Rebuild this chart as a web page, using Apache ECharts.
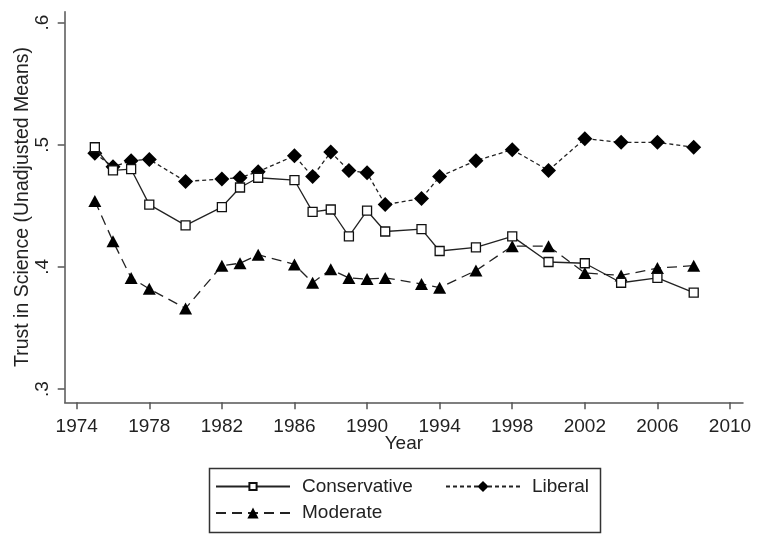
<!DOCTYPE html>
<html>
<head>
<meta charset="utf-8">
<script src="https://cdn.jsdelivr.net/npm/echarts@6/dist/echarts.min.js"></script>
<style>
  html, body { margin: 0; padding: 0; background: #fff; }
  #chart { width: 760px; height: 542px; }
</style>
</head>
<body>
<div id="chart"></div>
<script>
'use strict';

const years = [1975, 1976, 1977, 1978, 1980, 1982, 1983, 1984, 1986, 1987, 1988, 1989,
    1990, 1991, 1993, 1994, 1996, 1998, 2000, 2002, 2004, 2006, 2008];
const conservative = [0.498, 0.479, 0.480, 0.451, 0.434, 0.449, 0.465, 0.473, 0.471, 0.445, 0.447, 0.425,
    0.446, 0.429, 0.431, 0.413, 0.416, 0.425, 0.404, 0.403, 0.387, 0.391, 0.379];
const liberal = [0.493, 0.482, 0.487, 0.488, 0.470, 0.472, 0.473, 0.478, 0.491, 0.474, 0.494, 0.479,
    0.477, 0.451, 0.456, 0.474, 0.487, 0.496, 0.479, 0.505, 0.502, 0.502, 0.498];
const moderate = [0.454, 0.421, 0.391, 0.382, 0.366, 0.401, 0.403, 0.410, 0.402, 0.387, 0.398, 0.391,
    0.390, 0.391, 0.386, 0.383, 0.397, 0.417, 0.417, 0.395, 0.393, 0.399, 0.401];
const xTicks = [1974, 1978, 1982, 1986, 1990, 1994, 1998, 2002, 2006, 2010];
const yTicks = [0.3, 0.4, 0.5, 0.6];

const font = "'Liberation Sans', Arial, sans-serif";
const ink = '#222';
const axisColor = '#555';

function pairs(vals) {
    return years.map(function (y, i) { return [y, vals[i]]; });
}

function legendAt(name, left, top, iconHeight) {
    return {
        data: [name],
        left: left,
        top: top,
        padding: 0,
        itemWidth: 74,
        itemHeight: iconHeight,
        selectedMode: false,
        textStyle: { fontSize: 19, color: ink, fontFamily: font, padding: [0, 0, 0, 7] }
    };
}

const chartDom = document.getElementById('chart');
const myChart = echarts.init(chartDom);

const option = {
    animation: false,
    backgroundColor: '#fff',
    textStyle: { fontFamily: font, color: ink },
    grid: { left: 64.7, right: 17, top: 11.7, bottom: 139.7, containLabel: false },
    xAxis: {
        type: 'value',
        min: 1973.339,
        max: 2010.716,
        name: 'Year',
        nameLocation: 'middle',
        nameGap: 32,
        nameMoveOverlap: false,
        nameTextStyle: { fontSize: 19, color: ink, fontFamily: font },
        axisLine: { onZero: false, lineStyle: { color: axisColor, width: 1.5 } },
        axisTick: { show: true, length: 7, customValues: xTicks, lineStyle: { color: axisColor, width: 1.5 } },
        axisLabel: {
            customValues: xTicks,
            fontSize: 19,
            color: ink,
            margin: 15,
            fontFamily: font,
            formatter: function (v) { return String(v); }
        },
        splitLine: { show: false }
    },
    yAxis: {
        type: 'value',
        min: 0.2891,
        max: 0.609,
        name: 'Trust in Science (Unadjusted Means)',
        nameLocation: 'middle',
        nameGap: 32,
        nameMoveOverlap: false,
        nameTextStyle: { fontSize: 19.5, color: ink, fontFamily: font },
        axisLine: { show: true, onZero: false, lineStyle: { color: axisColor, width: 1.5 } },
        axisTick: { show: true, length: 7, customValues: yTicks, lineStyle: { color: axisColor, width: 1.5 } },
        axisLabel: {
            customValues: yTicks,
            rotate: 90,
            fontSize: 19,
            color: ink,
            margin: 12,
            fontFamily: font,
            formatter: function (v) { return String(v).replace(/^0/, ''); }
        },
        splitLine: { show: false }
    },
    legend: [
        legendAt('Conservative', 215, 477, 9),
        legendAt('Liberal', 445, 477, 14),
        legendAt('Moderate', 215, 503.5, 14)
    ],
    graphic: [
        {
            type: 'rect',
            left: 207,
            top: 466,
            shape: { width: 391, height: 64 },
            style: { fill: 'none', stroke: '#333', lineWidth: 1.5 },
            silent: true
        }
    ],
    series: [
        {
            name: 'Conservative',
            type: 'line',
            data: pairs(conservative),
            symbol: 'rect',
            symbolSize: 9,
            itemStyle: { color: '#fff', borderColor: '#111', borderWidth: 1.3 },
            lineStyle: { color: ink, width: 1.3, type: 'solid' },
            emphasis: { disabled: true },
            z: 3
        },
        {
            name: 'Liberal',
            type: 'line',
            data: pairs(liberal),
            symbol: 'diamond',
            symbolSize: 15,
            itemStyle: { color: '#000' },
            lineStyle: { color: ink, width: 1.3, type: [4, 3] },
            emphasis: { disabled: true },
            z: 2
        },
        {
            name: 'Moderate',
            type: 'line',
            data: pairs(moderate),
            symbol: 'triangle',
            symbolSize: [13, 12],
            itemStyle: { color: '#000' },
            lineStyle: { color: ink, width: 1.3, type: [10, 6] },
            emphasis: { disabled: true },
            z: 2
        }
    ]
};

myChart.setOption(option);
window.addEventListener('resize', function () {
    myChart.resize();
});
</script>
</body>
</html>
